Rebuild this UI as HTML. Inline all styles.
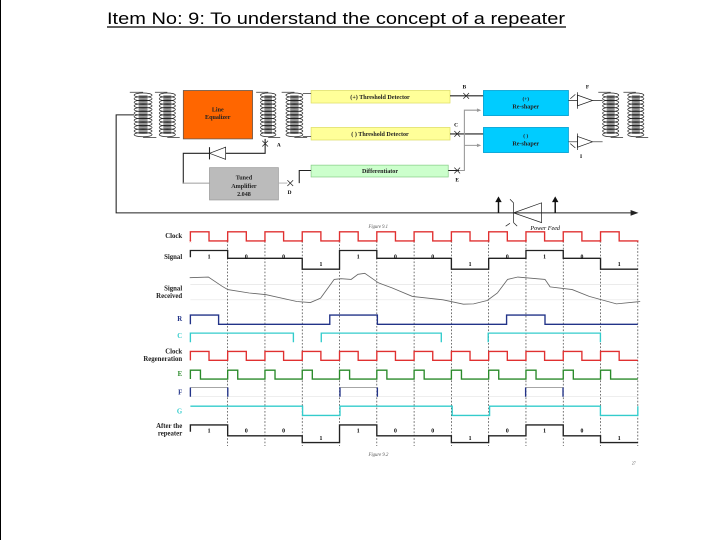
<!DOCTYPE html>
<html><head><meta charset="utf-8"><style>
html,body{margin:0;padding:0;background:#fff;}
svg{display:block;}
</style></head><body>
<svg id="s" width="720" height="540" viewBox="0 0 720 540" xmlns="http://www.w3.org/2000/svg" font-family="Liberation Serif, serif">
<rect width="720" height="540" fill="#fff"/>
<line x1="0.5" y1="0" x2="0.5" y2="540" stroke="#000" stroke-width="1"/>
<text x="107" y="24" font-family="Liberation Sans, sans-serif" font-size="17" textLength="458" lengthAdjust="spacingAndGlyphs" fill="#000">Item No: 9: To understand the concept of a repeater</text>
<line x1="107" y1="27" x2="566" y2="27" stroke="#000" stroke-width="1.2"/>

<g transform="translate(100,70) scale(0.359)" font-weight="bold" stroke-width="3">
  <g id="coils"></g>
  <path d="M95,125 H45 V398 H1490" fill="none" stroke="#222"/>
  <polygon points="1500,398 1478,390 1478,406" fill="#222"/>
  <rect x="232" y="57" width="193" height="135" fill="#ff6600" stroke="#555" stroke-width="2"/>
  <text x="328" y="115" font-size="17" text-anchor="middle" fill="#222">Line</text>
  <text x="328" y="137" font-size="17" text-anchor="middle" fill="#222">Equalizer</text>
  <rect x="588" y="57" width="387" height="35" fill="#ffff99" stroke="#dddd66" stroke-width="2"/>
  <text x="780" y="81" font-size="17" text-anchor="middle" fill="#222">(+) Threshold Detector</text>
  <rect x="588" y="160" width="387" height="35" fill="#ffff99" stroke="#dddd66" stroke-width="2"/>
  <text x="780" y="184" font-size="17" text-anchor="middle" fill="#222">( ) Threshold Detector</text>
  <rect x="588" y="265" width="382" height="33" fill="#ccffcc" stroke="#88cc88" stroke-width="2"/>
  <text x="780" y="287" font-size="17" text-anchor="middle" fill="#222">Differentiator</text>
  <path d="M565,65 H588 M565,185 H588" stroke="#333" stroke-width="2"/>
  <path d="M975,72 H1068 M975,178 H1068 M970,280 H1000" stroke="#222"/>
  <path d="M1012,64 l16,16 m0,-16 l-16,16 M987,170 l16,16 m0,-16 l-16,16 M987,272 l16,16 m0,-16 l-16,16" stroke="#222" stroke-width="2"/>
  <text x="1015" y="52" font-size="15" text-anchor="middle">B</text>
  <text x="992" y="158" font-size="15" text-anchor="middle">C</text>
  <text x="995" y="310" font-size="15" text-anchor="middle">E</text>
  <path d="M1000,280 H1015 V112 H1058 M1015,210 H1058" fill="none" stroke="#999"/>
  <path d="M1062,112 l-12,-5 v10z M1062,210 l-12,-5 v10z" fill="#999"/>
  <rect x="1068" y="57" width="237" height="70" fill="#00ccff" stroke="#0099cc" stroke-width="2"/>
  <text x="1186" y="85" font-size="15" text-anchor="middle" fill="#222">(+)</text>
  <text x="1186" y="107" font-size="17" text-anchor="middle" fill="#222">Re-shaper</text>
  <rect x="1068" y="160" width="237" height="70" fill="#00ccff" stroke="#0099cc" stroke-width="2"/>
  <text x="1186" y="188" font-size="15" text-anchor="middle" fill="#222">( )</text>
  <text x="1186" y="210" font-size="17" text-anchor="middle" fill="#222">Re-shaper</text>
  <polygon points="1330,70 1372,85 1330,100" fill="#fff" stroke="#222" stroke-width="2"/>
  <polygon points="1330,185 1372,200 1330,215" fill="#fff" stroke="#222" stroke-width="2"/>
  <path d="M1305,85 H1330 M1305,200 H1330 M1372,85 H1400 M1372,200 H1400" stroke="#222" stroke-width="2"/>
  <path d="M1330,62 V108 M1330,177 V223 M1310,80 l14,-12 M1310,205 l14,12" stroke="#222" stroke-width="2"/>
  <text x="1358" y="52" font-size="15" text-anchor="middle">F</text>
  <text x="1340" y="245" font-size="15" text-anchor="middle">I</text>
  <path d="M460,192 V232 H350 M305,232 H232 V315 H305" fill="none" stroke="#222"/>
  <path d="M232,315 H305" stroke="#bbb"/>
  <polygon points="305,232 350,215 350,249" fill="#fff" stroke="#222" stroke-width="2"/>
  <path d="M305,215 V249" stroke="#222"/>
  <path d="M452,197 l16,16 m0,-16 l-16,16" stroke="#222" stroke-width="2"/>
  <text x="498" y="213" font-size="15" text-anchor="middle">A</text>
  <rect x="305" y="272" width="192" height="90" fill="#bbbbbb" stroke="#999" stroke-width="2"/>
  <text x="401" y="305" font-size="17" text-anchor="middle" fill="#222">Tuned</text>
  <text x="401" y="328" font-size="17" text-anchor="middle" fill="#222">Amplifier</text>
  <text x="401" y="351" font-size="17" text-anchor="middle" fill="#222">2.048</text>
  <path d="M497,315 H522" stroke="#bbb"/>
  <path d="M522,307 l16,16 m0,-16 l-16,16" stroke="#222" stroke-width="2"/>
  <text x="528" y="345" font-size="15" text-anchor="middle">D</text>
  <path d="M555,315 V280 H588" fill="none" stroke="#222"/>
  <path d="M1110,398 V365 M1268,398 V365" stroke="#111" stroke-width="4"/>
  <path d="M1110,352 l-9,16 h18z M1268,352 l-9,16 h18z" fill="#111"/>
  <polygon points="1152,398 1230,370 1230,425" fill="none" stroke="#222" stroke-width="2"/>
  <path d="M1152,370 V425 M1152,370 l-10,-10 M1152,425 l10,10 M1130,435 l12,-8" stroke="#222" stroke-width="2"/>
  <text x="1240" y="445" font-size="17" font-style="italic" font-weight="normal" text-anchor="middle">Power Feed</text>
  <text x="775" y="440" font-size="13" font-style="italic" font-weight="normal" fill="#555" text-anchor="middle">Figure 9.1</text>
</g>

<g id="t" transform="translate(120,225) scale(0.34)" font-weight="bold" font-size="20"></g>
</svg>
<script>
var NS="http://www.w3.org/2000/svg";
function el(p,tag,a,txt){var e=document.createElementNS(NS,tag);for(var k in a)e.setAttribute(k,a[k]);if(txt!=null)e.textContent=txt;p.appendChild(e);return e;}
var cg=document.getElementById('coils');
[[95,145],[165,210],[447,490],[518,565],[1400,1445],[1470,1515]].forEach(function(c){
  var cx=(c[0]+c[1])/2, rx=(c[1]-c[0])/2;
  el(cg,'rect',{x:cx-rx*0.5,y:70,width:rx,height:108,fill:'#999'});
  for(var y=70;y<=180;y+=10){el(cg,'ellipse',{cx:cx,cy:y,rx:rx,ry:6,fill:'none',stroke:'#222','stroke-width':2});}
  el(cg,'path',{d:'M'+(c[0]-12)+',62 H'+cx+' M'+(c[1]+12)+',188 H'+cx,stroke:'#333','stroke-width':2});
});
var g=document.getElementById('t');
var x0=207,P=(1523-207)/12,X=[];for(var i=0;i<=12;i++)X.push(x0+i*P);
[175,220,505].forEach(function(y){el(g,'line',{x1:207,x2:1523,y1:y,y2:y,stroke:'#e4e4e4','stroke-width':2});});
for(var i=1;i<=12;i++)el(g,'line',{x1:X[i],x2:X[i],y1:47,y2:650,stroke:'#333','stroke-width':2,'stroke-dasharray':'5,5'});
function clock(yh,yl,col,w){var d='M'+X[0]+','+yl;for(var i=0;i<12;i++){d+=' V'+yh+' H'+(X[i]+P*(w||0.5))+' V'+yl+' H'+X[i+1];}el(g,'path',{d:d,fill:'none',stroke:col,'stroke-width':4});}
clock(20,47,'#e03030');
for(var i=0;i<=12;i++)el(g,'text',{x:X[i],y:53,fill:'#e03030','font-size':14,'text-anchor':'middle'},'×');
clock(372,398,'#e03030');
clock(427,453,'#2a8a2a',0.27);
var bits=[1,0,0,-1,1,0,0,-1,0,1,0,-1];
function sig(yh,ym,yl,ty1,ty0,tyl){var Y={1:yh,0:ym,'-1':yl};var d='M'+X[0]+','+(yh+20)+' V'+yh;for(var i=0;i<12;i++){d+=' V'+Y[bits[i]]+' H'+X[i+1];}el(g,'path',{d:d,fill:'none',stroke:'#222','stroke-width':4});
for(var i=0;i<12;i++){var c=X[i]+P/2;el(g,'text',{x:c,y:bits[i]==1?ty1:bits[i]==0?ty0:tyl,'text-anchor':'middle','font-size':17},bits[i]==0?'0':'1');}}
sig(75,98,130,98,98,120);
sig(588,620,640,610,610,632);
var pts=[[205,155],[260,153],[300,180],[317,190],[380,200],[430,205],[520,225],[560,228],[590,215],[630,160],[650,158],[680,160],[700,145],[720,142],[760,170],[800,185],[860,210],[950,220],[1010,233],[1040,232],[1080,222],[1110,200],[1140,160],[1170,153],[1250,160],[1265,182],[1330,190],[1380,210],[1460,232],[1530,225]];
el(g,'polyline',{points:pts.map(function(p){return p.join(',')}).join(' '),fill:'none',stroke:'#666','stroke-width':2.5});
el(g,'path',{d:'M207,292 V265 H290 V292 H617 V265 H757 V292 H1137 V265 H1250 V292 H1523',fill:'none',stroke:'#223388','stroke-width':4});
el(g,'path',{d:'M207,345 V318 H510 V345 M592,345 V318 H945 V345 M1083,345 V318 H1413 V345',fill:'none',stroke:'#33cccc','stroke-width':4});
el(g,'path',{d:'M207,478 H317 M647,478 H757 M1193,478 H1303',stroke:'#999','stroke-width':2.5});
el(g,'path',{d:'M207,478 V505 M317,478 V505 M647,478 V505 M757,478 V505 M1193,478 V505 M1303,478 V505',stroke:'#223388','stroke-width':4});
el(g,'path',{d:'M207,533 H537 V560 H647 V533 H977 V560 H1087 V533 H1413 V560 H1523 V533',fill:'none',stroke:'#33cccc','stroke-width':4});
var L=[['Clock',38,'#222'],['Signal',100,'#222'],['Signal',192,'#222'],['Received',214,'#222'],['R',282,'#223388'],['C',332,'#33cccc'],['Clock',378,'#222'],['Regeneration',400,'#222'],['E',444,'#2a8a2a'],['F',499,'#223388'],['G',554,'#33cccc'],['After the',597,'#222'],['repeater',619,'#222']];
L.forEach(function(l){el(g,'text',{x:183,y:l[1],fill:l[2],'text-anchor':'end'},l[0]);});
el(g,'text',{x:760,y:680,'font-size':14,'font-style':'italic','font-weight':'normal',fill:'#555','text-anchor':'middle'},'Figure 9.2');
el(g,'text',{x:1505,y:705,'font-size':12,'font-weight':'normal',fill:'#555'},'27');
</script>
</body></html>
